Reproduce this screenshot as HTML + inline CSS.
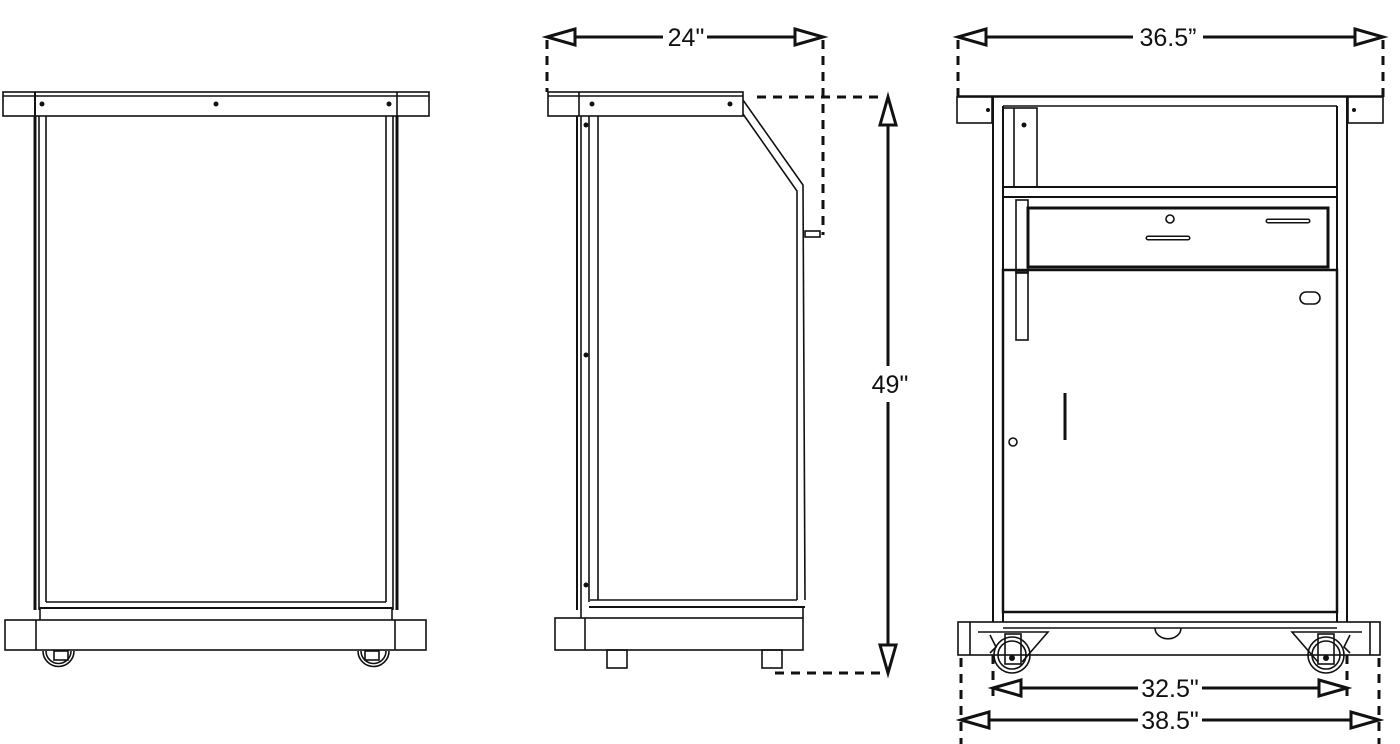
<!DOCTYPE html>
<html><head><meta charset="utf-8"><style>
html,body{margin:0;padding:0;background:#fff;}
svg{display:block}
text{font-family:"Liberation Sans",sans-serif;font-size:25px;fill:#111}
</style></head><body>
<svg width="1400" height="744" viewBox="0 0 1400 744" xmlns="http://www.w3.org/2000/svg">
<g fill="none" stroke="#111" stroke-width="1.6">
<!-- FRONT VIEW -->
<rect x="3" y="92" width="426" height="24" fill="#fff"/>
<line x1="3" y1="96" x2="429" y2="96"/>
<line x1="35" y1="92" x2="35" y2="116" stroke-width="2"/>
<line x1="397" y1="92" x2="397" y2="116"/>
<line x1="35" y1="116" x2="35" y2="610" stroke-width="3"/>
<line x1="39" y1="116" x2="39" y2="610"/>
<line x1="46" y1="116" x2="46" y2="602"/>
<line x1="397" y1="116" x2="397" y2="610" stroke-width="3"/>
<line x1="393" y1="116" x2="393" y2="610"/>
<line x1="386" y1="116" x2="386" y2="602"/>
<line x1="46" y1="602" x2="386" y2="602"/>
<line x1="39" y1="608" x2="393" y2="608" stroke-width="2"/>
<line x1="40" y1="608" x2="40" y2="620"/>
<line x1="392" y1="608" x2="392" y2="620"/>
<rect x="5" y="620" width="421" height="30"/>
<line x1="36" y1="620" x2="36" y2="650"/>
<line x1="395" y1="620" x2="395" y2="650"/>
<path d="M43 651 A15 15 0 0 0 74 651"/><path d="M46 651 A12 12 0 0 0 71 651"/>
<rect x="54" y="651" width="14" height="9"/>
<path d="M358 651 A15 15 0 0 0 389 651"/><path d="M361 651 A12 12 0 0 0 386 651"/>
<rect x="365" y="651" width="14" height="9"/>
<!-- SIDE VIEW -->
<rect x="548" y="92" width="195" height="24" fill="#fff"/>
<line x1="548" y1="96" x2="743" y2="96"/>
<line x1="579" y1="92" x2="579" y2="116"/>
<path d="M743 100 L803 185 L805 600"/>
<path d="M743 114 L797 191 L797 600"/>
<line x1="577" y1="116" x2="577" y2="610" stroke-width="2"/>
<line x1="581" y1="116" x2="581" y2="610"/>
<line x1="589" y1="116" x2="589" y2="602"/>
<line x1="598" y1="116" x2="598" y2="600"/>
<line x1="590" y1="600" x2="797" y2="600"/>
<line x1="589" y1="607" x2="805" y2="607" stroke-width="2"/>
<line x1="581" y1="610" x2="581" y2="618"/>
<line x1="803" y1="607" x2="803" y2="618"/>
<rect x="555" y="618" width="248" height="32"/>
<line x1="585" y1="618" x2="585" y2="650"/>
<rect x="607" y="650" width="20" height="18"/><rect x="762" y="650" width="20" height="18"/>
<rect x="805" y="231" width="15" height="6"/>
<!-- DOOR VIEW -->
<line x1="957" y1="96" x2="1383" y2="96"/>
<rect x="957" y="97" width="35" height="26"/>
<rect x="1348" y="97" width="35" height="26"/>
<line x1="1003" y1="106" x2="1337" y2="106"/>
<line x1="992" y1="97" x2="1348" y2="97"/>
<line x1="993" y1="97" x2="993" y2="622" stroke-width="2"/>
<line x1="1003" y1="106" x2="1003" y2="622" stroke-width="2"/>
<line x1="1337" y1="106" x2="1337" y2="622" stroke-width="2"/>
<line x1="1347" y1="97" x2="1347" y2="622" stroke-width="2"/>
<rect x="1003" y="108" width="34" height="79"/>
<line x1="1014" y1="108" x2="1014" y2="187"/>
<line x1="1003" y1="187" x2="1337" y2="187" stroke-width="2"/>
<line x1="1003" y1="197" x2="1337" y2="197" stroke-width="2"/>
<rect x="1028" y="208" width="300" height="59" stroke-width="3"/>
<rect x="1016" y="200" width="12" height="73"/>
<rect x="1003" y="270" width="334" height="342" stroke-width="2.5"/>
<rect x="1016" y="272" width="12" height="68"/>
<path d="M1148 238 h40 M1268 221 h40" stroke-width="5" stroke-linecap="round"/>
<path d="M1148 238 h40 M1268 221 h40" stroke="#fff" stroke-width="2" stroke-linecap="round"/>
<circle cx="1170" cy="219" r="4"/>
<rect x="1300" y="292" width="20" height="12" rx="6"/>
<line x1="1065" y1="393" x2="1065" y2="440" stroke-width="3"/>
<circle cx="1013" cy="442" r="4"/>
<line x1="1003" y1="612" x2="1337" y2="612" stroke-width="2"/>
<rect x="958" y="622" width="422" height="33"/>
<line x1="970" y1="622" x2="970" y2="655"/>
<line x1="1370" y1="622" x2="1370" y2="655"/>
<line x1="1003" y1="628" x2="1337" y2="628"/>
<path d="M1155 628 A12 10 0 0 0 1181 628"/>
<path d="M978 632 h70 l-26 30"/>
<path d="M1362 632 h-70 l26 30"/>
<circle cx="1012" cy="655" r="18"/><circle cx="1012" cy="655" r="14"/>
<circle cx="1326" cy="655" r="18"/><circle cx="1326" cy="655" r="14"/>
<rect x="1005" y="634" width="16" height="30"/><rect x="1318" y="634" width="16" height="30"/>
<path d="M990 635 l6 12 l-6 6 M1350 635 l-6 12 l6 6"/>
</g>
<g fill="#111">
<circle cx="42" cy="104" r="2.5"/><circle cx="216" cy="104" r="2.5"/><circle cx="389" cy="104" r="2.5"/>
<circle cx="592" cy="104" r="2.5"/><circle cx="730" cy="104" r="2.5"/>
<circle cx="586" cy="125" r="2.5"/><circle cx="586" cy="355" r="2.5"/><circle cx="586" cy="585" r="2.5"/>
<circle cx="988" cy="110" r="2"/><circle cx="1354" cy="110" r="2"/><circle cx="1024" cy="125" r="2.5"/>
<circle cx="1012" cy="658" r="3"/><circle cx="1326" cy="658" r="3"/>
</g>
<!-- DIMENSIONS -->
<g fill="none" stroke="#111" stroke-width="3" stroke-dasharray="9 7">
<line x1="547" y1="40" x2="547" y2="92"/>
<line x1="823" y1="40" x2="823" y2="235"/>
<line x1="757" y1="97" x2="885" y2="97"/>
<line x1="775" y1="673" x2="885" y2="673"/>
<line x1="958" y1="40" x2="958" y2="97"/>
<line x1="1383" y1="40" x2="1383" y2="97"/>
<line x1="993" y1="655" x2="993" y2="700"/>
<line x1="1347" y1="655" x2="1347" y2="700"/>
<line x1="961" y1="658" x2="961" y2="744"/>
<line x1="1379" y1="658" x2="1379" y2="744"/>
</g>
<g fill="#fff" stroke="#111" stroke-width="3" stroke-linejoin="miter">
<line x1="575" y1="37" x2="663" y2="37"/><line x1="707" y1="37" x2="795" y2="37"/>
<path d="M547 37 L575 29 L575 45 Z"/><path d="M823 37 L795 29 L795 45 Z"/>
<line x1="888" y1="125" x2="888" y2="366"/><line x1="888" y1="402" x2="888" y2="645"/>
<path d="M888 97 L880 125 L896 125 Z"/><path d="M888 673 L880 645 L896 645 Z"/>
<line x1="986" y1="37" x2="1133" y2="37"/><line x1="1203" y1="37" x2="1355" y2="37"/>
<path d="M958 37 L986 29 L986 45 Z"/><path d="M1383 37 L1355 29 L1355 45 Z"/>
<line x1="1021" y1="688" x2="1138" y2="688"/><line x1="1202" y1="688" x2="1319" y2="688"/>
<path d="M993 688 L1021 680 L1021 696 Z"/><path d="M1347 688 L1319 680 L1319 696 Z"/>
<line x1="989" y1="720" x2="1138" y2="720"/><line x1="1202" y1="720" x2="1351" y2="720"/>
<path d="M961 720 L989 712 L989 728 Z"/><path d="M1379 720 L1351 712 L1351 728 Z"/>
</g>
<text x="686" y="46" text-anchor="middle">24"</text>
<text x="890" y="393" text-anchor="middle">49"</text>
<text x="1168" y="46" text-anchor="middle">36.5”</text>
<text x="1170" y="697" text-anchor="middle">32.5"</text>
<text x="1170" y="729" text-anchor="middle">38.5"</text>
</svg>
</body></html>
